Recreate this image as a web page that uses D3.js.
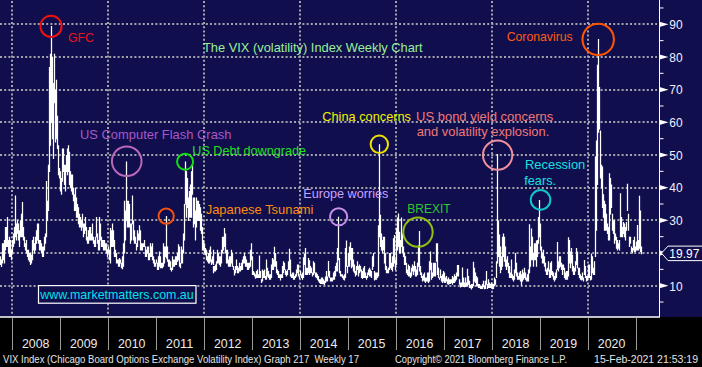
<!DOCTYPE html>
<html><head><meta charset="utf-8">
<script src="https://cdn.jsdelivr.net/npm/d3@7"></script>
<style>html,body{margin:0;padding:0;background:#000;overflow:hidden}svg{display:block}</style>
</head><body><svg id="c" width="702" height="367"></svg>
<script>
// ---- Weekly VIX high / low (week ending Friday), first week ends 5 Oct 2007 ----
const high2007=[19,18,23,23,24,28,28,31,31,24,25,24,21];
const low2007 =[16.5,15.9,17,18,17,21,22,24,22,20,19,19,18];
const high2008=[24,26,28,37.6,29,30,29,27,26,30,32,35.6,28,25,23,24,21,21,20,19,20,19.5,24,25,23,25,27,29,29,24,24,23,22,22,22,25,26,42,36,47,76.9,81,89.5,80,64,72,81,70,73,62,53,46];
const low2008 =[20,22,23,25,24,26,24,23,22,25,25,25,24,22,21,20,19,18,17.5,16.5,17,17,18,21,20,21,23,24,23,21,21,20,20,19,19,21,23,25,30,33,45,53,60,55,49,57,66,54,55,52,44,43];
const high2009=[45,43,52,52,47,46,47,50,52,53,51,45,44,44,40,38,40,37,36,35,34,32,31,30,32,29,29,31,28,25,26,27,28,28,26,29,25,24,25,31,26,24,24,31,29,25,24,24,24,23,23,21];
const low2009 =[39,38,42,45,41,42,39,45,44,45,41,40,39,38,36,33,33,34,31,31,29,28,28,27,28,25,26,27,24,23,24,23,24,24,24,24,23,22,22,25,23,21,21,23,24,22,22,21,21,21,20,19];
const high2010=[22,21,19,27.7,27, 29,27,24,21, 20,18,18,18.5, 18,17,19,18,23, 36,33,48,36, 36,35,29,29, 37.6,30,27,27,25, 23,27,26,28.5, 27,23,23,23, 24,22,21,21,22, 22,20,23,22, 23,19,18,17,18];
const low2010 =[20,18,17,17,22, 22,22,19,19, 17,17,16,16, 17,15.5,15.2,16,16, 20,24,30,28, 28,28,23,24, 29,24,24,23,23, 21,22,24,24, 21,21,21,22, 22,19,19,19,20, 18,18,19,19, 18,17,16,16,17];
const high2011=[18,17,19,20.5, 19,17,17,23, 22,22,31.3,22, 18,18,18,17.5,15.5, 19,18,18,19, 19,20,22.7,22, 20,17,22,21,26, 35,48,45,43, 37,39,41,43,45, 46.9,37,37,33, 37,36,36,35, 34,32,28,26,24];
const low2011 =[17,15,15,16, 15.5,15.5,15.5,16, 17,19,18.5,17.5, 17,16,16,15,14.5, 15,16,16,16.5, 16.5,17.5,18,19, 16,15.5,17,17,20, 24,35,31,34, 30,31,31,31,37, 38,28,29,24, 28,30,30,30, 27,26,23,21,21];
const high2012=[23,21.5,21,19, 20,21,22,18, 19,21,16,16,16.5, 17.5,21,20,19, 19,21,25,25, 27.7,26,24,21,21, 18,19,19,21, 20,16,15,16,18, 18,16,15.5,17, 16,17,18,19, 20,19,18,17,16, 17,17,21,23];
const low2012 =[20,19.5,18,17.5, 17,17,17.5,16.5, 17,16.5,14,14.5,14.5, 15,17,17,16.5, 16,17,20,21, 22,21,20,17,17, 16,16,16,17, 16,15,13.3,14,16, 15,14,14,14.5, 14.5,15,15,17, 17,16,16,15,15, 15.5,15.5,16,18];
const high2013=[19,14.5,14,13.5, 14.5,15,13.5,16, 19.2,14.5,12,15,14.5, 15,13,18,15.5, 14.5,13.5,13.5,15,16.5, 18.5,18,21.9,20, 17.5,15,14.5,13.5, 13.5,13.5,15,16,17.5, 17,15,14.5,15, 17.5,21.3,18,13.5, 14,14,13,13,13.5, 15,16.5,16.5,13];
const low2013 =[13.5,13.5,13,12.3, 12.5,12.5,12.5,12.5, 14,12.5,11,11.5,12.5, 12.5,12,12,13, 12.5,12,12,12.5,13, 15,15,16,16, 14,13.5,12.5,12.5, 11.8,12.5,12.5,13.5,14, 15,13.5,13,13.5, 15,15,13,12.5, 12.5,12.5,12,12,12.5, 13,14,13,12.3];
const high2014=[14.5,13.5,14,18.7,19.9, 21.5,15.5,15.5,15.5, 18.5,17.8,16,15.5, 14,17.5,17,14, 14,14,13.5,13,12, 12,12.5,12.5,12, 11.5,12.8,14.5,12.8, 17.6,17,14.5,12.5,12.5, 12.5,14,14.5,16, 17,21.5,31.1,18.5,16.5, 14.5,13.5,13.5,13, 13.5,21.5,23.8,16];
const low2014 =[13.5,12.5,12,12.5,16.5, 15.5,13.5,13.5,13.5, 14,13.5,14,14, 13,13.5,14,12.8, 12.5,12.5,12,11.5,11, 10.7,10.7,10.6,10.6, 10.3,11,11.5,11.5, 13,14.5,12.5,11.5,11.5, 11.5,12,12,13, 14.5,14.5,18,16,14, 13,13,12.5,12, 11.8,12.5,16,14];
const high2015=[20,22,23.3,21,21.5, 21.5,18,16.5,14.5, 16,17.5,16,16.5, 16,15,14.5,13.5, 15.5,16,14,13,14, 15,15.5,15,14.5, 19,20,14.5,14,14, 14,14,28.5,53.3, 31.7,26,24,25, 25,20,18,16,15, 15.5,20,20,17, 19,24.5,25.5,18];
const low2015 =[16,16,18,15.5,17, 16,14.5,14,13, 13.5,15,13,14, 14.5,12.5,12.5,12.2, 12.5,12.5,12.5,12,12.5, 13.5,13,13,12.5, 15,16,11.8,12,12, 12,12.5,13,25, 22,21,20,21, 17,16,15,14,14, 14,15,15.5,15, 14.5,16,17,15];
const high2016=[19,27.7,30.9,32.1,26.5, 24,30.9,26,22, 20,19,17,15, 15,16.5,16,14,15.5, 16.5,16,17.5,16, 15,17,22.4,26.7, 23.5,16,14,13,13.5, 14,12.5,12.5,14, 14,17.5,20.5,17,15.5, 14,17,17,17, 23,23,15.5,12.5, 15,13,13.5,12.5,14.5];
const low2016 =[16.5,18,21,22,20, 20,22,20,19, 16.5,16.5,14,13.5, 13,13.5,13,12.5,13, 14.5,13.5,14.5,13, 13,13.5,16,17, 14.5,13.5,12.5,11.5,11.8, 11.5,11,11.5,11.5, 11,11.5,15,12,13, 12.5,13,13,13, 17.5,13.5,12.5,12, 12.5,11.5,11.5,11,11.5];
const high2017=[14,12.5,13,12, 12.5,12,12,12, 13,12.5,12.5,13.5,13, 14,16.3,16.3,12, 11,11,15.6,12.5, 11,12,12.5,11,15.2, 13,11.5,10.2,10.5, 10.5,17.3,15.5,14, 13,12.5,11,10.5,10.5, 10,10,10.5,11.5, 10,11.5,14.5,10.5, 12,11.5,11,10.5,11];
const low2017 =[11,11,11.5,10.6, 10.5,10.7,10.7,11, 10.5,11,11,11.5,11.5, 12,13,13,10.5, 9.6,9.8,10,9.8, 9.7,9.8,9.8,9.9,10, 10.5,9.5,9.4,9, 9.5,10,11.5,11, 10,11,9.9,9.5,9.5, 9.2,9.2,9.2,9.7, 9.1,9.2,10.5,9.2, 10,9.5,9.5,9.5,9.3];
const high2018=[10.5,10.5,12.5,12, 17.5,50.3,30,21, 25.7,22,19,25,26, 25,22,18,19, 17,16,14,16, 18,13.5,13,15,20, 17,14,13,14, 14.5,13.5,15,13,14, 15.5,14,12.5,13.5, 15,28.8,22,27.5, 25,20,23,23,23, 23.8,24,31,36.2];
const low2018 =[9.1,9.2,10,10.5, 12.5,17,19,16, 16.5,14,15,16,19, 17.5,16,15,16, 14,12.5,12.5,12.5, 13,12,11.5,12,14, 13,12,12,12, 11.5,10.2,12,11.5,12, 12.5,12,11.5,11.5, 11.5,14,16,18, 18,16,18,19,18, 16,19,23,25];
const high2019=[29,22,20,21, 19,17,17,15, 15.5,17.5,15,17,17.5, 14.5,14,13,14, 15,23.4,21,17.5,19, 19,17,16.5,16.5, 15.5,14,14.5,14.5, 19.5,24.8,24,20.5,21.5, 19.5,16,15.5,17.5, 21.5,20.5,15.5,15.5, 13.5,13,13,14,12.5, 17.9,16,13,13];
const low2019 =[21,18.5,17,17, 16,15,14.5,13.5, 13.5,14.5,12.5,12.5,13.5, 13,12,11.5,12, 12.5,15,15,14.5,15.5, 16,15,13.5,15, 12.5,12,12,12, 13,16,17,15.5,17, 14.5,13.5,13.5,14.5, 16.5,15.5,13.5,12.5, 12,12,11.8,12,11.5, 13.5,12.5,11.5,11.7];
const high2020=[16.5,16.5,13,15,19.9, 19,15.5,17.5,49.5, 54.4,77.6,85.5,70.8, 57.5,47,46.5,45, 38,36,35,32,29, 28,44.4,43,41, 32,30,30,27,26, 25,24,23,24, 38.3,31,28,29.5, 29,27,28,29.5,41.2, 32,25,25,22, 21.5,24,25,22];
const low2020 =[12.5,12.5,11.8,12,15, 14,13.5,13.5,19, 27,41,57,58, 43,40,37,34, 31,27,27,27,26, 24,24,32,34, 27,26,26,23,24, 21.5,21,21.5,21, 25,25,25,26, 25,24.5,24,27,33, 27,22,23,20.5, 20,21,20.5,20.5];
const high2021=[23.5,28.6,25,24,37.5,33,22];
const low2021 =[21,21,21,21,21.5,20.5,19.8];
const lastValue = 19.97;

const yTicks=[10,20,30,40,50,60,70,80,90];
const minorTicks=[5,15,25,35,45,55,65,75,85,95];
const yearLabels=["2008","2009","2010","2011","2012","2013","2014","2015","2016","2017","2018","2019","2020"];
const gridYears=[2008,2010,2012,2014,2016,2018,2020];

// events: label, peak week, peak value
const eventNames=["GFC","US Computer Flash Crash","US Debt downgrade","Japanese Tsunami","Europe worries","China concerns","BREXIT","US bond yield concerns","Recession fears.","Coronavirus"];
const eventDates=["2008-10-24","2010-05-21","2011-08-12","2011-03-18","2014-10-17","2015-08-28","2016-06-24","2018-02-09","2018-12-28","2020-03-20"];
const eventValues=[89.5,48,48,31.3,31.1,53.3,26.5,50.3,36.2,85.5];

// ---- drawing ----
const W=702,H=367,plotBottom=317,axisX=659.5;
const navy="#110e4e";
const FONT="'Liberation Sans', Arial, Helvetica, sans-serif";
const NARROW="'Liberation Sans Narrow', 'Arial Narrow', 'Liberation Sans', sans-serif";
const svg=d3.select("#c");

svg.append("rect").attr("width",W).attr("height",plotBottom).attr("fill",navy);
svg.append("rect").attr("y",plotBottom).attr("width",W).attr("height",H-plotBottom).attr("fill","#000");

const x=d3.scaleTime().domain([new Date(2008,0,1),new Date(2021,0,1)]).range([11.7,635.6]);
const y=d3.scaleLinear().domain([10,90]).range([285.7,24.3]);

// grid
const grid=svg.append("g").attr("stroke","#a2a2aa").attr("stroke-width",2).attr("stroke-dasharray","2,2.2");
grid.selectAll("line.h").data(yTicks).join("line").attr("class","h")
  .attr("x1",0).attr("x2",657).attr("y1",d=>Math.round(y(d))).attr("y2",d=>Math.round(y(d)));
grid.selectAll("line.v").data(gridYears).join("line").attr("class","v")
  .attr("x1",d=>Math.round(x(new Date(d,0,1)))).attr("x2",d=>Math.round(x(new Date(d,0,1))))
  .attr("y1",1).attr("y2",plotBottom-1);

// weekly bars
const highs=[].concat(high2007,high2008,high2009,high2010,high2011,high2012,high2013,high2014,high2015,high2016,high2017,high2018,high2019,high2020,high2021);
const lows=[].concat(low2007,low2008,low2009,low2010,low2011,low2012,low2013,low2014,low2015,low2016,low2017,low2018,low2019,low2020,low2021);
const start=new Date(2007,9,5);
const weeks=highs.map((h,i)=>({d:d3.timeDay.offset(start,7*i),h:h,l:lows[i]}));
svg.append("path")
  .attr("d",weeks.map(w=>{const px=Math.round(x(w.d))+0.5;return "M"+px+","+y(w.h).toFixed(1)+"V"+(y(w.l)+0.6).toFixed(1);}).join(""))
  .attr("stroke","#fff").attr("stroke-width",1.25).attr("fill","none");

// plot frame lines
svg.append("line").attr("x1",0).attr("x2",axisX+0.5).attr("y1",plotBottom).attr("y2",plotBottom).attr("stroke","#fff").attr("stroke-width",1.5);
svg.append("line").attr("x1",axisX).attr("x2",axisX).attr("y1",0).attr("y2",plotBottom).attr("stroke","#fff").attr("stroke-width",1);

// right axis ticks
svg.selectAll("line.minor").data(minorTicks).join("line").attr("class","minor")
  .attr("x1",axisX).attr("x2",axisX+4).attr("y1",d=>y(d)).attr("y2",d=>y(d)).attr("stroke","#fff");
svg.selectAll("path.major").data(yTicks).join("path").attr("class","major")
  .attr("d",d=>{const t=y(d);return `M${axisX},${t-2.6}L${axisX+9},${t}L${axisX},${t+2.6}Z`;}).attr("fill","#fff");
// the "20" label sits under the last-value marker in the reference, so only the visible ones are written
svg.selectAll("text.yl").data(yTicks.filter(v=>Math.abs(y(v)-y(lastValue))>10)).join("text").attr("class","yl")
  .attr("x",669.3).attr("y",d=>y(d)+4.8).attr("fill","#eef0ff")
  .attr("font-family",FONT).attr("font-size","12.5px").text(d=>d)
  .attr("textLength",13.3).attr("lengthAdjust","spacingAndGlyphs");

// last value marker
const ly=y(lastValue);
svg.append("path").attr("d",`M661.5,${ly}L668,${ly-7}L703,${ly-7}L703,${ly+7.5}L668,${ly+7.5}Z`)
  .attr("fill",navy).attr("stroke","#fff").attr("stroke-width",1);
svg.append("text").attr("x",669.3).attr("y",ly+5).attr("fill","#fff").attr("font-family",FONT)
  .attr("font-size","12.5px").attr("textLength",30).attr("lengthAdjust","spacingAndGlyphs").text(lastValue.toFixed(2));

// year axis
const yrs=d3.range(2008,2022);
svg.selectAll("line.yt").data(yrs).join("line").attr("class","yt")
  .attr("x1",d=>Math.round(x(new Date(d,0,1)))+0.5).attr("x2",d=>Math.round(x(new Date(d,0,1)))+0.5)
  .attr("y1",plotBottom+1).attr("y2",350).attr("stroke","#9c9c9c").attr("stroke-width",1);
svg.selectAll("text.yr").data(yearLabels).join("text").attr("class","yr")
  .attr("x",d=>x(new Date(+d,6,2))).attr("y",347.6).attr("text-anchor","middle")
  .attr("fill","#ececec").attr("font-family",FONT).attr("font-size","13px")
  .attr("textLength",27.5).attr("lengthAdjust","spacingAndGlyphs").text(d=>d);

// footer
function txt(t,px,py,fill,size,len,anchor,fam){
  const e=svg.append("text").attr("x",px).attr("y",py).attr("fill",fill).attr("font-family",fam||FONT)
    .attr("font-size",size+"px").attr("xml:space","preserve").text(t);
  if(anchor) e.attr("text-anchor",anchor);
  if(len) e.attr("textLength",len).attr("lengthAdjust","spacingAndGlyphs");
  return e;
}
txt("VIX Index (Chicago Board Options Exchange Volatility Index) Graph 217  Weekly 17",3,363.3,"#e4e4e4",11,356);
txt("Copyright\u00a9 2021 Bloomberg Finance L.P.",395,363.3,"#e4e4e4",11,172);
txt("15-Feb-2021 21:53:19",698,363.3,"#e4e4e4",10.5,null,"end",NARROW);

// circles around event peaks
const circleStyle=[
  {c:"#ee1111",r:10.6},{c:"#b86ab8",r:14.8},{c:"#12e012",r:8},{c:"#f2520f",r:7.6},{c:"#c890e8",r:8.6},
  {c:"#f0e000",r:8.7},{c:"#90c010",r:14.7},{c:"#f0909c",r:14.7},{c:"#12c4cc",r:9.8},{c:"#ff5500",r:15.7}];
const circleShift=[[0.3,0.4],[0.6,-0.3],[0.1,0.2],[0.5,0],[1,0],[0.3,0.1],[-0.6,0.3],[0.9,1.1],[1.5,-0.2],[0.3,0.4]];
eventNames.forEach((n,i)=>{
  const d=new Date(eventDates[i]+"T00:00:00");
  svg.append("circle").attr("cx",x(d)+circleShift[i][0]).attr("cy",y(eventValues[i])+circleShift[i][1])
    .attr("r",circleStyle[i].r).attr("fill","none").attr("stroke",circleStyle[i].c).attr("stroke-width",2);
});

// annotation texts
txt("GFC",68,41.7,"#e8141e",13.5,26);
txt("The VIX (volatility) Index Weekly Chart",203,51.5,"#98f098",13.5,219.7);
txt("US Computer Flash Crash",80,139.4,"#a858c8",13.5,151.5);
txt("US Debt downgrade",192.3,155.2,"#20e020",13.5,113.7);
txt("Japanese Tsunami",205.7,214,"#ff8c10",13.5,107.6);
txt("Europe worries",303.3,198.2,"#caa2ff",13.5,85);
txt("China concerns",322.3,120.6,"#f2f200",13.5,88.7);
txt("BREXIT",407.3,213.2,"#30c830",13.5,43.4);
txt("US bond yield concerns",416,120.6,"#f07878",13.5,137.3);
txt("and volatility explosion.",416.7,136,"#f07878",13.5,132.6);
txt("Recession",525,169,"#18e0e0",13.5,60.3);
txt("fears.",524.3,185,"#18e0e0",13.5,31.7);
txt("Coronavirus",506.7,41,"#ff5a10",13.5,66);

// watermark
svg.append("rect").attr("x",38.5).attr("y",285.6).attr("width",157.5).attr("height",17.6)
  .attr("fill",navy).attr("stroke","#fff").attr("stroke-width",1.2);
txt("www.marketmatters.com.au",40.3,299.2,"#00e2ea",12.2,153.4);
</script>
</body></html>
